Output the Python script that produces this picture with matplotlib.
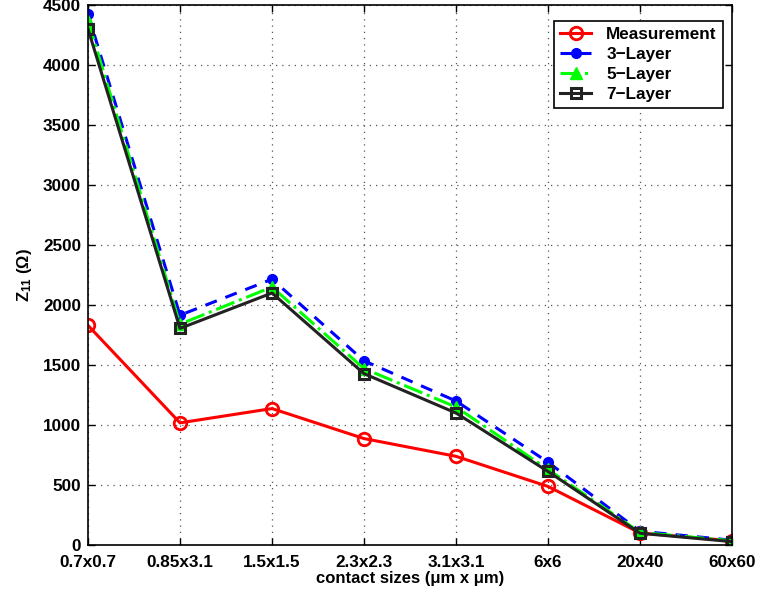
import numpy as np
import matplotlib.pyplot as plt

plt.rcParams['font.family'] = ['Liberation Sans', 'DejaVu Sans']
plt.rcParams['font.weight'] = 'bold'
plt.rcParams['mathtext.fontset'] = 'custom'
plt.rcParams['mathtext.rm'] = 'Liberation Sans:bold'
plt.rcParams['mathtext.it'] = 'Liberation Sans:bold'
plt.rcParams['mathtext.bf'] = 'Liberation Sans:bold'

# contact sizes on the x axis
sizes = ['0.7x0.7', '0.85x3.1', '1.5x1.5', '2.3x2.3', '3.1x3.1', '6x6', '20x40', '60x60']

# Z11 values
measurement = [1830, 1018, 1137, 887, 739, 488, 100, 35]
layer3 = [4425, 1915, 2215, 1535, 1200, 690, 115, 40]
layer5 = [4370, 1840, 2150, 1470, 1150, 630, 105, 35]
layer7 = [4300, 1805, 2100, 1428, 1100, 613, 98, 28]

x = np.arange(1, len(sizes) + 1)

fig = plt.figure(figsize=(7.58, 5.97), dpi=100)
ax = fig.add_axes([0.1161, 0.0871, 0.8496, 0.9045])

ax.plot(x, measurement, color='red', lw=2.2, marker='o', ms=9, mfc='none', mew=2, label='Measurement')
ax.plot(x, layer3, color='blue', lw=2.2, ls='--', dashes=(4, 3), marker='o', ms=7, label='3\u2212Layer')
ax.plot(x, layer5, color='#00ff00', lw=2.2, ls='-.', marker='^', ms=9, label='5\u2212Layer')
ax.plot(x, layer7, color='#222222', lw=2.2, marker='s', ms=7.5, mfc='none', mew=2.2, label='7\u2212Layer')

ax.set_xlim(1, 8)
ax.set_ylim(0, 4500)
ax.set_xticks(x)
ax.set_xticklabels(sizes)
ax.set_yticks(np.arange(0, 4501, 500))
ax.tick_params(direction='in', top=True, right=True, labelsize=12.3, length=5, width=1)
ax.tick_params(axis='x', pad=7)
ax.tick_params(axis='y', pad=5)
for lab in ax.get_xticklabels() + ax.get_yticklabels():
    lab.set_fontweight('bold')
ax.grid(True, ls=(0, (1, 4)), color='#555555', lw=0.9)
for sp in ax.spines.values():
    sp.set_linewidth(1.2)

ax.set_xlabel('contact sizes (\u03bcm x \u03bcm)', fontsize=12, fontweight='bold', labelpad=1)
ax.set_ylabel(r'Z$_{11}$ ($\Omega$)', fontsize=12, fontweight='bold', labelpad=6)

leg = ax.legend(loc='upper right', bbox_to_anchor=(0.999, 0.987), fontsize=12.3, fancybox=False,
                edgecolor='black', framealpha=1, handlelength=1.8, borderpad=0.35, labelspacing=0.3,
                handletextpad=0.9)
leg.get_frame().set_linewidth(1.2)
for t in leg.get_texts():
    t.set_fontweight('bold')

plt.savefig('out.png', dpi=100)
